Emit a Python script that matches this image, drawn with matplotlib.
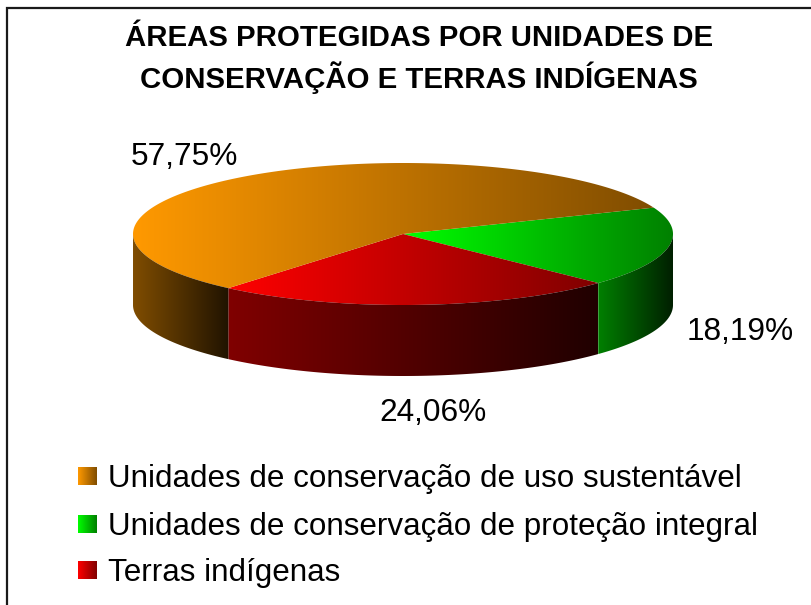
import numpy as np
import matplotlib
matplotlib.use("Agg")
import matplotlib.pyplot as plt
from matplotlib.patches import Polygon
from matplotlib.colors import LinearSegmentedColormap

title = "ÁREAS PROTEGIDAS POR UNIDADES DE\nCONSERVAÇÃO E TERRAS INDÍGENAS"
# order follows the pie going clockwise from the top right
names = ["Unidades de conservação de proteção integral",
         "Terras indígenas",
         "Unidades de conservação de uso sustentável"]
values = [18.19, 24.06, 57.75]
labels = ["18,19%", "24,06%", "57,75%"]
bright = ["#00ff00", "#ff0000", "#ff9900"]
dark = ["#008000", "#800000", "#804d00"]
side_dark = ["#001f00", "#200000", "#201300"]

plt.rcParams["font.family"] = ["Liberation Sans", "DejaVu Sans"]

fig = plt.figure(figsize=(8.12, 6.05), dpi=100)
ax = fig.add_axes([0, 0, 1, 1])
ax.set_xlim(0, 812)
ax.set_ylim(605, 0)
ax.axis("off")

cx, cy = 403, 234
rx, ry = 270, 71
depth = 71
start = 21.8


def gradient(poly, c0, c1):
    cmap = LinearSegmentedColormap.from_list("g", [c0, c1])
    x0, y0 = poly.min(axis=0)
    x1, y1 = poly.max(axis=0)
    im = ax.imshow(np.linspace(0, 1, 256)[None, :], cmap=cmap, aspect="auto",
                   extent=(x0, x1, y1, y0), interpolation="bilinear", zorder=2)
    patch = Polygon(poly, closed=True, transform=ax.transData, fc="none", ec="none")
    ax.add_patch(patch)
    im.set_clip_path(patch)


def rim(t):
    return np.column_stack([cx + rx * np.cos(np.radians(t)), cy - ry * np.sin(np.radians(t))])


# wedges, clockwise
ends = start - np.cumsum(values) * 3.6
begins = np.r_[start, ends[:-1]]
for b, e, c0, c1, c2 in zip(begins, ends, bright, dark, side_dark):
    t = np.linspace(b, e, 200)
    gradient(np.vstack([[cx, cy], rim(t)]), c0, c1)
    # the wall only shows on the front half of the ellipse
    ts = t[(t <= -0.0) & (t >= -180)]
    if len(ts) > 1:
        top = rim(ts)
        low = top + [0, depth]
        gradient(np.vstack([top, low[::-1]]), c1, c2)

ax.set_xlim(0, 812)
ax.set_ylim(605, 0)

# label positions
label_pos = [(740, 332), (433, 413), (184, 157)]
for s, (x, y) in zip(labels, label_pos):
    ax.text(x, y, s, fontsize=22.8, ha="center", va="center", color="black", zorder=3)

ax.text(419, 59, title, fontsize=21.2, fontweight="bold", ha="center", va="center",
        linespacing=1.37, color="black", zorder=3)

# legend
legend_order = [2, 0, 1]
legend_y = [476, 524, 570]
for i, y in zip(legend_order, legend_y):
    sw = np.array([[78, y - 9.5], [97, y - 9.5], [97, y + 9.5], [78, y + 9.5]])
    gradient(sw, bright[i], dark[i])
    ax.text(108, y + 3, names[i], fontsize=22.6, ha="left", va="center", color="black", zorder=3)

# chart frame, cut off by the picture on the right and bottom
ax.plot([7, 7, 812], [605, 8, 8], color="#1a1a1a", lw=1.6, solid_joinstyle="miter", zorder=4)

fig.savefig("out.png", dpi=100, facecolor="white")
